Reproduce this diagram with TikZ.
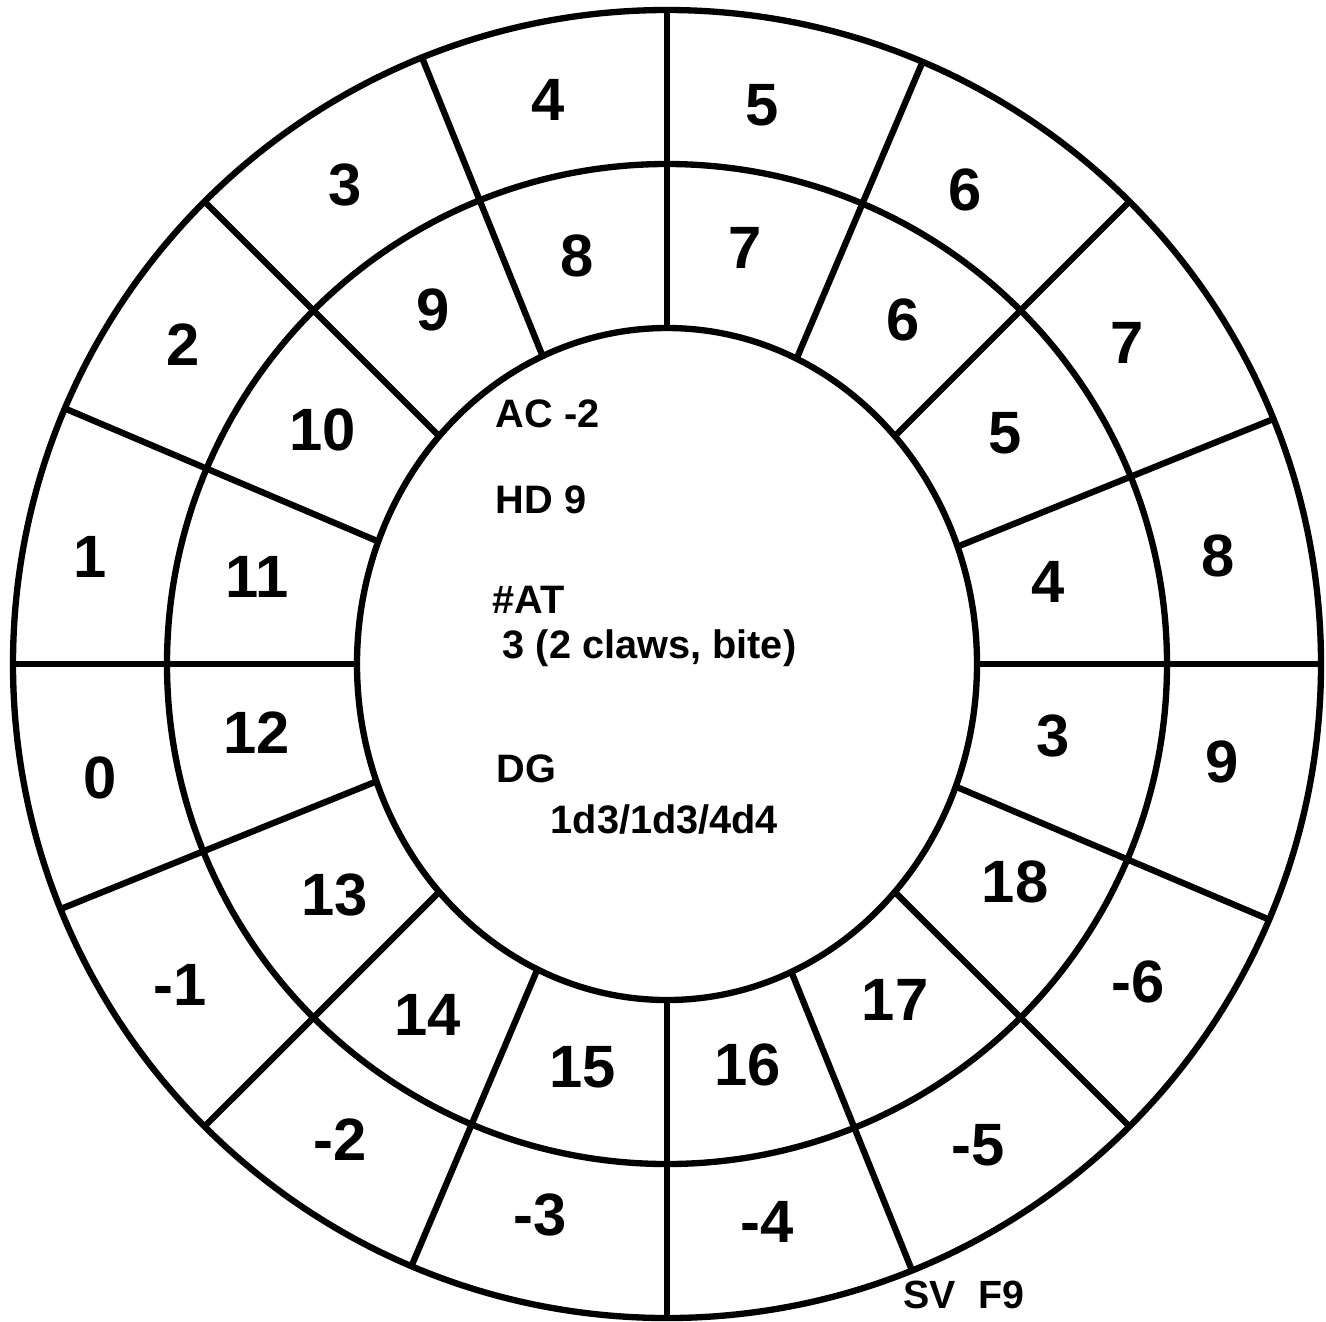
\documentclass[tikz,border=0pt]{standalone}
\usepackage{fontspec}
\setmainfont{Liberation Sans}
\usetikzlibrary{shapes.geometric}

\tikzset{
  wheel/.style={line width=1.8pt},
  ringnum/.style={font=\fontsize{17}{17}\selectfont\bfseries},
  stat/.style={font=\fontsize{11.3}{12}\selectfont\bfseries,anchor=base west,inner sep=0pt}
}

\begin{document}
\begin{tikzpicture}
  \useasboundingbox (-6.67,-6.57) rectangle (6.59,6.64);
  % rings
  \node[wheel,draw,circle,minimum size=13.08cm,inner sep=0pt,outer sep=0pt] (rim) at (0,0) {};
  \node[wheel,draw,circle,minimum size=10.0cm,inner sep=0pt,outer sep=0pt] (belt) at (0,0) {};
  \node[wheel,draw,ellipse,minimum width=6.2cm,minimum height=6.72cm,inner sep=0pt,outer sep=0pt] (core) at (0,0) {};
  % spokes
  \foreach \a in {0,22.5,...,337.5}
    \draw[wheel] (core.\a) -- (rim.\a);
  % outer ring
  \foreach \x/\y/\t [count=\i] in {-1.19/5.64/4, 0.95/5.59/5, 2.98/4.74/6, 4.60/3.21/7,
      5.51/1.08/8, 5.55/-0.98/9, 4.71/-3.18/-6, 3.11/-4.81/-5,
      1.00/-5.58/-4, -1.27/-5.51/-3, -3.27/-4.76/-2, -4.87/-3.21/-1,
      -5.67/-1.14/0, -5.77/1.07/1, -4.84/3.19/2, -3.22/4.79/3}
    \node[ringnum] (out\i) at (\x,\y) {\t};
  % inner ring
  \foreach \x/\y/\t [count=\i] in {-0.90/4.08/8, 0.78/4.16/7, 2.36/3.44/6, 3.38/2.31/5,
      3.81/0.82/4, 3.86/-0.72/3, 3.48/-2.18/18, 2.28/-3.36/17,
      0.81/-4.01/16, -0.84/-4.03/15, -2.39/-3.51/14, -3.32/-2.31/13,
      -4.10/-0.69/12, -4.10/0.87/11, -3.44/2.34/10, -2.34/3.54/9}
    \node[ringnum] (in\i) at (\x,\y) {\t};
  % stats
  \node[stat] (ac) at (-1.72,2.37) {AC -2};
  \node[stat] (hd) at (-1.72,1.51) {HD 9};
  \node[stat] (at) at (-1.75,0.51) {\#AT};
  \node[stat] (atk) at (-1.65,0.06) {3 (2 claws, bite)};
  \node[stat] (dg) at (-1.71,-1.18) {DG};
  \node[stat] (dmg) at (-1.17,-1.69) {1d3/1d3/4d4};
  \node[stat,font=\fontsize{11.2}{12}\selectfont\bfseries] (sv) at (2.36,-6.44) {SV\ \ F9};
\end{tikzpicture}
\end{document}
